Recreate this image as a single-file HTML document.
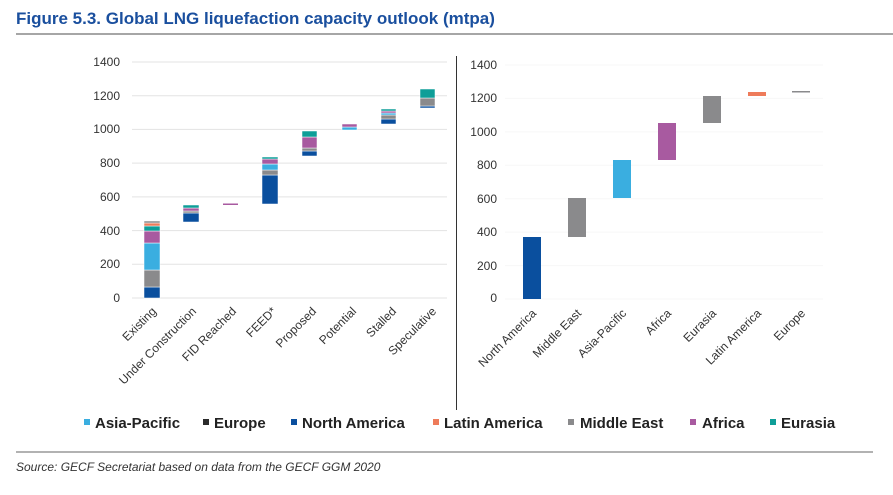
<!DOCTYPE html>
<html><head><meta charset="utf-8"><style>
body{margin:0;background:#fff;width:893px;height:490px;overflow:hidden;font-family:"Liberation Sans",sans-serif}
</style></head><body>
<svg width="893" height="490" xmlns="http://www.w3.org/2000/svg" font-family="Liberation Sans, sans-serif">
<text x="16" y="24" font-size="17" font-weight="bold" fill="#1a4f9e">Figure 5.3. Global LNG liquefaction capacity outlook (mtpa)</text>
<line x1="16" y1="34" x2="893" y2="34" stroke="#888" stroke-width="1.5"/>
<line x1="456.5" y1="56" x2="456.5" y2="410" stroke="#333" stroke-width="1"/>
<g stroke="#e3e3e3" stroke-width="1">
<line x1="132" x2="447" y1="298" y2="298"/><line x1="132" x2="447" y1="264.3" y2="264.3"/><line x1="132" x2="447" y1="230.6" y2="230.6"/><line x1="132" x2="447" y1="196.9" y2="196.9"/><line x1="132" x2="447" y1="163.1" y2="163.1"/><line x1="132" x2="447" y1="129.4" y2="129.4"/><line x1="132" x2="447" y1="95.7" y2="95.7"/><line x1="132" x2="447" y1="62" y2="62"/>
</g>
<g stroke="#f7f7f7" stroke-width="1">
<line x1="505" x2="823" y1="299" y2="299"/><line x1="505" x2="823" y1="265.6" y2="265.6"/><line x1="505" x2="823" y1="232.1" y2="232.1"/><line x1="505" x2="823" y1="198.7" y2="198.7"/><line x1="505" x2="823" y1="165.3" y2="165.3"/><line x1="505" x2="823" y1="131.9" y2="131.9"/><line x1="505" x2="823" y1="98.4" y2="98.4"/><line x1="505" x2="823" y1="65" y2="65"/>
</g>
<g font-size="12" fill="#333" text-anchor="end">
<text x="120" y="302">0</text><text x="120" y="268">200</text><text x="120" y="235">400</text><text x="120" y="201">600</text><text x="120" y="167">800</text><text x="120" y="133">1000</text><text x="120" y="100">1200</text><text x="120" y="66">1400</text>
<text x="497" y="302">0</text><text x="497" y="270">200</text><text x="497" y="236">400</text><text x="497" y="203">600</text><text x="497" y="169">800</text><text x="497" y="136">1000</text><text x="497" y="102">1200</text><text x="497" y="69">1400</text>
</g>
<g stroke="#fff" stroke-width="0.5">
<rect x="144" y="287" width="16" height="11" fill="#0a4f9e"/>
<rect x="144" y="270" width="16" height="17" fill="#8a8a8c"/>
<rect x="144" y="243" width="16" height="27" fill="#3aaee0"/>
<rect x="144" y="231" width="16" height="12" fill="#a85aa0"/>
<rect x="144" y="226" width="16" height="5" fill="#0e9e98"/>
<rect x="144" y="223" width="16" height="3" fill="#ee7b5a"/>
<rect x="144" y="221" width="16" height="2" fill="#8a8a8c"/>
<rect x="183" y="213" width="16" height="9" fill="#0a4f9e"/>
<rect x="183" y="211" width="16" height="2" fill="#8a8a8c"/>
<rect x="183" y="208" width="16" height="3" fill="#a85aa0"/>
<rect x="183" y="205" width="16" height="3" fill="#0e9e98"/>
<rect x="223" y="203.5" width="15" height="1.5" fill="#a85aa0" stroke="none"/>
<rect x="262" y="175" width="16" height="29" fill="#0a4f9e"/>
<rect x="262" y="170" width="16" height="5" fill="#8a8a8c"/>
<rect x="262" y="164" width="16" height="6" fill="#3aaee0"/>
<rect x="262" y="159" width="16" height="5" fill="#a85aa0"/>
<rect x="262" y="157" width="16" height="2" fill="#0e9e98"/>
<rect x="302" y="151" width="15" height="5" fill="#0a4f9e"/>
<rect x="302" y="148" width="15" height="3" fill="#8a8a8c"/>
<rect x="302" y="137" width="15" height="11" fill="#a85aa0"/>
<rect x="302" y="131" width="15" height="6" fill="#0e9e98"/>
<rect x="342" y="127" width="15" height="3" fill="#3aaee0"/>
<rect x="342" y="124" width="15" height="3" fill="#a85aa0"/>
<rect x="381" y="119" width="15" height="5" fill="#0a4f9e"/>
<rect x="381" y="115" width="15" height="4" fill="#8a8a8c"/>
<rect x="381" y="113" width="15" height="2" fill="#3aaee0"/>
<rect x="381" y="111" width="15" height="2" fill="#a85aa0"/>
<rect x="381" y="109" width="15" height="2" fill="#0e9e98"/>
<rect x="420" y="106" width="15" height="2" fill="#0a4f9e"/>
<rect x="420" y="98" width="15" height="8" fill="#8a8a8c"/>
<rect x="420" y="89" width="15" height="9" fill="#0e9e98"/>
</g>
<rect x="523" y="237" width="18" height="62" fill="#0a4f9e"/>
<rect x="568" y="198" width="18" height="39" fill="#8a8a8c"/>
<rect x="613" y="160" width="18" height="38" fill="#3aaee0"/>
<rect x="658" y="123" width="18" height="37" fill="#a85aa0"/>
<rect x="703" y="96" width="18" height="27" fill="#8a8a8c"/>
<rect x="748" y="92" width="18" height="4" fill="#ee7b5a"/>
<rect x="792" y="91" width="18" height="1.5" fill="#8a8a8c"/>
<g font-size="12" fill="#333" text-anchor="end">
<text transform="translate(157,312) rotate(-45)">Existing</text>
<text transform="translate(197,312) rotate(-45)">Under Construction</text>
<text transform="translate(237,312) rotate(-45)">FID Reached</text>
<text transform="translate(277,312) rotate(-45)">FEED*</text>
<text transform="translate(317,312) rotate(-45)">Proposed</text>
<text transform="translate(357,312) rotate(-45)">Potential</text>
<text transform="translate(397,312) rotate(-45)">Stalled</text>
<text transform="translate(437,312) rotate(-45)">Speculative</text>
<text transform="translate(537,314) rotate(-45)">North America</text>
<text transform="translate(582,314) rotate(-45)">Middle East</text>
<text transform="translate(627,314) rotate(-45)">Asia-Pacific</text>
<text transform="translate(672,314) rotate(-45)">Africa</text>
<text transform="translate(717,314) rotate(-45)">Eurasia</text>
<text transform="translate(762,314) rotate(-45)">Latin America</text>
<text transform="translate(806,314) rotate(-45)">Europe</text>
</g>
<g font-size="15" font-weight="bold" fill="#222">
<rect x="84" y="419" width="6" height="6" fill="#3aaee0"/><text x="95" y="428">Asia-Pacific</text>
<rect x="203" y="419" width="6" height="6" fill="#2b2b2b"/><text x="214" y="428">Europe</text>
<rect x="291" y="419" width="6" height="6" fill="#0a4f9e"/><text x="302" y="428">North America</text>
<rect x="433" y="419" width="6" height="6" fill="#ee7b5a"/><text x="444" y="428">Latin America</text>
<rect x="568" y="419" width="6" height="6" fill="#8a8a8c"/><text x="580" y="428">Middle East</text>
<rect x="690" y="419" width="6" height="6" fill="#a85aa0"/><text x="702" y="428">Africa</text>
<rect x="770" y="419" width="6" height="6" fill="#0e9e98"/><text x="781" y="428">Eurasia</text>
</g>
<line x1="16" y1="452" x2="873" y2="452" stroke="#666" stroke-width="1"/>
<text x="16" y="471" font-size="12" font-style="italic" fill="#333">Source: GECF Secretariat based on data from the GECF GGM 2020</text>
</svg>
</body></html>
